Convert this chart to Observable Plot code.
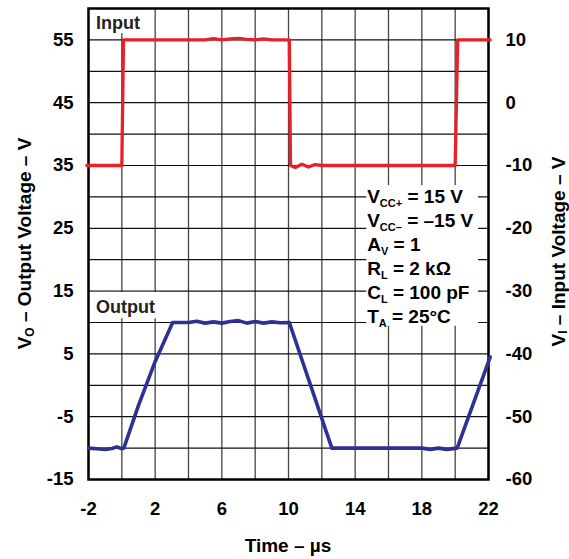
<!DOCTYPE html>
<html>
<head>
<meta charset="utf-8">
<script src="https://cdn.jsdelivr.net/npm/d3@7"></script>
<script src="https://cdn.jsdelivr.net/npm/@observablehq/plot@0.6"></script>
<style>
  html, body { margin: 0; padding: 0; background: #fff; }
  svg { font-family: "Liberation Sans", Arial, Helvetica, sans-serif; }
</style>
</head>
<body>
<div id="chart"></div>
<script>
// ---- data ----
const xTickLabels = [-2, 2, 6, 10, 14, 18, 22];
const xGrid = [-2, 0, 2, 4, 6, 8, 10, 12, 14, 16, 18, 20, 22];
const yGrid = [-15, -10, -5, 0, 5, 10, 15, 20, 25, 30, 35, 40, 45, 50, 55, 60];
const leftTickLabels = [-15, -5, 5, 15, 25, 35, 45, 55];
const rightTickLabels = [-60, -50, -40, -30, -20, -10, 0, 10];
const inputOffset = 45; // V_I axis = V_O axis - 45

// Input waveform (time µs, V_I volts)
const inputTime = [-2.1, 0.0, 0.1, 3, 5, 5.5, 6, 6.5, 7, 7.5, 8, 8.5, 9, 10.05, 10.12, 10.4, 10.8, 11.2, 11.6, 12.0, 14, 20.0, 20.15, 22.1];
const inputV    = [-10, -10, 10, 10, 10, 10.2, 10, 10.15, 10.25, 10.1, 10, 10.15, 10, 10, -10, -10.3, -9.8, -10.25, -9.85, -10, -10, -10, 10, 10];

// Output waveform (time µs, V_O volts)
const outputTime = [-2, -1.5, -1, -0.6, -0.3, 0.0, 0.12, 1.0, 2.0, 3.05, 4.0, 4.5, 5.0, 5.5, 6.0, 6.5, 7.0, 7.5, 8.0, 8.5, 9.0, 9.5, 10.05, 12.6, 14.0, 16.0, 18.0, 18.5, 19.0, 19.5, 20.12, 22.1];
const outputV    = [-10, -10.1, -10.2, -10.05, -9.8, -10.1, -10, -3.2, 3.8, 10, 10, 10.2, 9.9, 10.1, 9.9, 10.15, 10.3, 9.9, 10.15, 9.9, 10.1, 9.95, 10, -10, -10, -10, -10, -10.2, -10, -10.2, -10, 4.5];

// Test conditions
const condMain = ["V", "V", "A", "R", "C", "T"];
const condSub  = ["CC+", "CC–", "V", "L", "L", "A"];
const condRest = [" = 15 V", " = –15 V", " = 1", " = 2 kΩ", " = 100 pF", " = 25°C"];

// ---- build tables ----
const inputData = inputTime.map((t, i) => ({t, v: inputV[i] + inputOffset}));
const outputData = outputTime.map((t, i) => ({t, v: outputV[i]}));

const red = "#e8202a";
const blue = "#2e3192";
const fmt = d => String(d);

const plot = Plot.plot({
  width: 569,
  height: 559,
  marginLeft: 88,
  marginRight: 81,
  marginTop: 8,
  marginBottom: 80,
  style: {fontFamily: "'Liberation Sans', Arial, sans-serif", fontWeight: "bold", fontSize: "18px", color: "#000", background: "#fff"},
  x: {domain: [-2, 22]},
  y: {domain: [-15, 60]},
  marks: [
    Plot.ruleX(xGrid, {stroke: "#444", strokeWidth: 1.3}),
    Plot.ruleY(yGrid, {stroke: "#111", strokeWidth: 1.2}),
    // white backgrounds behind labels and the conditions box
    Plot.rect([{x1: -2, x2: 1.5, y1: 56, y2: 60}], {x1: "x1", x2: "x2", y1: "y1", y2: "y2", fill: "white"}),
    Plot.rect([{x1: -2, x2: 2.3, y1: 10.6, y2: 14.8}], {x1: "x1", x2: "x2", y1: "y1", y2: "y2", fill: "white"}),
    Plot.rect([{x1: 14.7, x2: 21.4, y1: 9.4, y2: 31.8}], {x1: "x1", x2: "x2", y1: "y1", y2: "y2", fill: "white"}),
    Plot.frame({stroke: "#000", strokeWidth: 2.5}),
    Plot.axisX(xTickLabels, {tickSize: 0, tickPadding: 22, label: null, fontSize: 18.5, tickFormat: fmt}),
    Plot.axisY(leftTickLabels, {anchor: "left", tickSize: 0, tickPadding: 15, label: null, fontSize: 18.5, tickFormat: fmt}),
    Plot.axisY(rightTickLabels.map(v => v + inputOffset), {anchor: "right", tickSize: 0, tickPadding: 17, label: null, fontSize: 18.5, tickFormat: d => String(d - inputOffset)}),
    Plot.line(inputData, {x: "t", y: "v", stroke: red, strokeWidth: 3.3, clip: false}),
    Plot.line(outputData, {x: "t", y: "v", stroke: blue, strokeWidth: 3.6, clip: false}),
    Plot.text(["Input"], {x: -1.55, y: 56.8, text: d => d, textAnchor: "start", lineAnchor: "bottom", fontSize: 18, fontWeight: "bold", fill: "#222"}),
    Plot.text(["Output"], {x: -1.55, y: 11.5, text: d => d, textAnchor: "start", lineAnchor: "bottom", fontSize: 18, fontWeight: "bold", fill: "#222"})
  ]
});

document.getElementById("chart").appendChild(plot);

// ---- titles and conditions with subscripts ----
const svg = d3.select(plot);
const xs = plot.scale("x");
const ys = plot.scale("y");
const font = "'Liberation Sans', Arial, sans-serif";

// Conditions text
const condX = xs.apply(14.75);
const condY0 = 29.0, condStep = 3.82;
condMain.forEach((m, i) => {
  const t = svg.append("text")
    .attr("x", condX)
    .attr("y", ys.apply(condY0 - i * condStep))
    .attr("text-anchor", "start")
    .attr("font-family", font)
    .attr("font-weight", "bold")
    .attr("font-size", 19)
    .attr("fill", "#000");
  t.append("tspan").text(m);
  t.append("tspan").attr("font-size", 11).attr("dy", 4).text(condSub[i]);
  t.append("tspan").attr("dy", -4).text(condRest[i]);
});

// X title
svg.append("text")
  .attr("x", (xs.range[0] + xs.range[1]) / 2)
  .attr("y", 552)
  .attr("text-anchor", "middle")
  .attr("font-family", font).attr("font-weight", "bold").attr("font-size", 19)
  .attr("fill", "#000")
  .text("Time – µs");

// Left title
const yMid = (ys.range[0] + ys.range[1]) / 2;
const lt = svg.append("text")
  .attr("transform", `translate(31,${yMid}) rotate(-90)`)
  .attr("text-anchor", "middle")
  .attr("font-family", font).attr("font-weight", "bold").attr("font-size", 19)
  .attr("fill", "#000");
lt.append("tspan").text("V");
lt.append("tspan").attr("font-size", 12).attr("dy", 3).text("O");
lt.append("tspan").attr("dy", -3).text(" – Output Voltage – V");

// Right title
const rt = svg.append("text")
  .attr("transform", `translate(565,${yMid + 8}) rotate(-90)`)
  .attr("text-anchor", "middle")
  .attr("font-family", font).attr("font-weight", "bold").attr("font-size", 19)
  .attr("fill", "#000");
rt.append("tspan").text("V");
rt.append("tspan").attr("font-size", 12).attr("dy", 2).text("I");
rt.append("tspan").attr("dy", -2).text(" – Input Voltage – V");
</script>
</body>
</html>
